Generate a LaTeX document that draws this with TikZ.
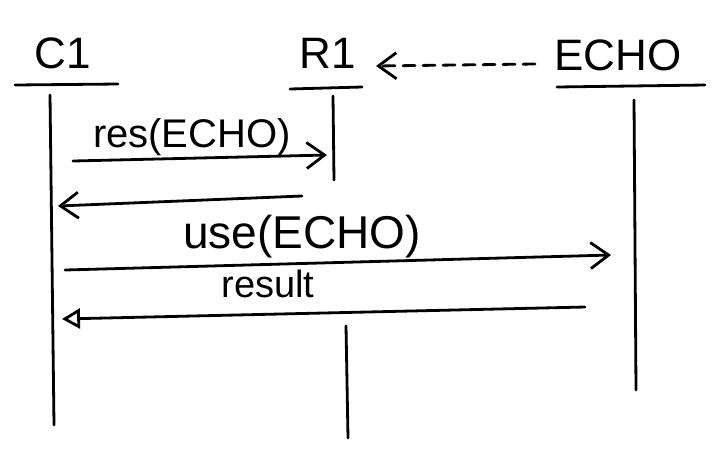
\documentclass[tikz,border=0pt]{standalone}
\usepackage{fontspec}
\setmainfont{Liberation Sans}
\usetikzlibrary{arrows.meta}
\begin{document}
\begin{tikzpicture}[x=0.5pt,y=-0.5pt,
  ink/.style={line width=1.4pt,line cap=round,line join=round,draw=black},
  msg/.style={ink,-{Straight Barb[length=9pt,width=13pt,line width=1.4pt]}},
  msgtri/.style={ink,-{Triangle[open,length=9pt,width=10pt,line width=1.4pt]}},
  dmsg/.style={ink,dash pattern=on 6pt off 4pt,-{Straight Barb[length=9pt,width=13pt,line width=1.4pt]}},
  actor/.style={inner sep=0pt,anchor=base,font=\fontsize{22}{26}\selectfont},
  lbl/.style={inner sep=0pt,anchor=base}]
\useasboundingbox[fill=white] (0,0) rectangle (716,462);
% actors
\node[actor] (c1) at (63,68) {C1};
\node[actor] (r1) at (328,68) {R1};
\node[actor] (echo) at (618,70) {ECHO};
% underlines
\coordinate (c1ul) at (15,85); \coordinate (c1ur) at (118,84);
\coordinate (r1ul) at (290,89); \coordinate (r1ur) at (362,87);
\coordinate (eul) at (557,87); \coordinate (eur) at (705,85);
\draw[ink] (c1ul) -- (c1ur);
\draw[ink] (r1ul) -- (r1ur);
\draw[ink] (eul) -- (eur);
% lifelines
\coordinate (c1t) at (50,95); \coordinate (c1b) at (54,425);
\coordinate (r1t) at (333,96); \coordinate (r1m) at (334,180);
\coordinate (r1n) at (346,326); \coordinate (r1b) at (348,438);
\coordinate (et) at (634,100); \coordinate (eb) at (636,390);
\draw[ink] (c1t) -- (c1b);
\draw[ink] (r1t) -- (r1m);
\draw[ink] (r1n) -- (r1b);
\draw[ink] (et) -- (eb);
% dashed arrow ECHO -> R1
\coordinate (ds) at (535,64); \coordinate (de) at (376,66);
\draw[dmsg] (ds) -- (de);
% res(ECHO)
\node[lbl,font=\fontsize{20}{24}\selectfont] (res) at (192,147) {res(ECHO)};
\coordinate (m1s) at (73,161); \coordinate (m1e) at (327,155);
\draw[msg] (m1s) -- (m1e);
% return
\coordinate (m2s) at (302,196); \coordinate (m2e) at (58,206);
\draw[msg] (m2s) -- (m2e);
% use(ECHO)
\node[lbl,font=\fontsize{23}{27}\selectfont] (use) at (302,248) {use(ECHO)};
\coordinate (m3s) at (65,270); \coordinate (m3e) at (611,255);
\draw[msg] (m3s) -- (m3e);
% result
\node[lbl,font=\fontsize{19}{23}\selectfont] (result) at (268,297) {result};
\coordinate (m4s) at (585,307); \coordinate (m4e) at (62,319);
\draw[msgtri] (m4s) -- (m4e);
\end{tikzpicture}
\end{document}
